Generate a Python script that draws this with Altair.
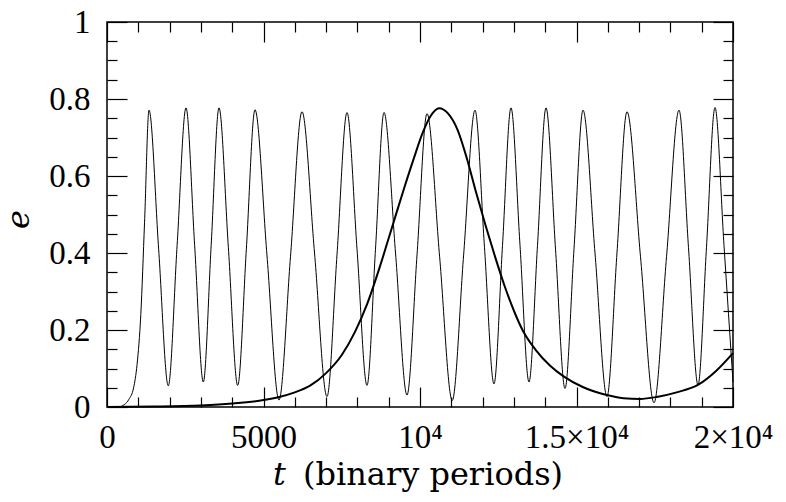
import altair as alt
import pandas as pd

# fast (inner binary) eccentricity oscillation
t_fast = [0, 350, 550, 700, 850, 960, 1080, 1200, 1342, 1650, 1958, 2240, 2524, 2800, 3077,
          3328, 3578, 3877, 4176, 4452, 4728, 5110, 5495, 5862, 6230, 6630, 7029, 7348, 7668,
          7988, 8307, 8578, 8850, 9218, 9585, 9905, 10224, 10627, 11030, 11394, 11757, 12060,
          12364, 12636, 12907, 13195, 13482, 13754, 14026, 14330, 14633, 14920, 15208, 15591,
          15974, 16293, 16613, 17045, 17476, 17876, 18275, 18578, 18882, 19153, 19425, 19712, 20000]
e_fast = [0, 0, 0.006, 0.02, 0.05, 0.11, 0.24, 0.48, 0.771, 0.41, 0.055, 0.42, 0.777, 0.42, 0.065,
          0.42, 0.777, 0.415, 0.056, 0.41, 0.772, 0.395, 0.018, 0.39, 0.767, 0.40, 0.027, 0.395, 0.765,
          0.41, 0.056, 0.41, 0.765, 0.40, 0.031, 0.395, 0.762, 0.39, 0.017, 0.395, 0.771, 0.415,
          0.06, 0.42, 0.777, 0.42, 0.065, 0.42, 0.777, 0.41, 0.048, 0.41, 0.771, 0.40,
          0.027, 0.40, 0.767, 0.39, 0.011, 0.39, 0.771, 0.414, 0.057, 0.415, 0.778, 0.42, 0.065]

# slow (long-period) oscillation
t_slow = [0, 1500, 3000, 4000, 5000, 5500, 6000, 6500, 7000, 7500, 7923, 8300, 8700, 9100,
          9500, 9800, 10100, 10350, 10607, 10900, 11200, 11500, 11800, 12100, 12400, 12700,
          13000, 13300, 13700, 14150, 14600, 15200, 15965, 16500, 17029, 17562, 18200, 18892,
          19450, 20000]
e_slow = [0, 0.001, 0.004, 0.009, 0.018, 0.026, 0.038, 0.056, 0.088, 0.135, 0.195, 0.265, 0.36,
          0.465, 0.57, 0.645, 0.715, 0.757, 0.776, 0.762, 0.72, 0.645, 0.555, 0.47, 0.39, 0.315,
          0.25, 0.196, 0.148, 0.108, 0.079, 0.052, 0.031, 0.023, 0.021, 0.026, 0.038, 0.058,
          0.093, 0.14]

x_tick_values = [0, 5000, 10000, 15000, 20000]
x_tick_labels = ["0", "5000", "10⁴", "1.5×10⁴", "2×10⁴"]
x_minor_ticks = [1000, 2000, 3000, 4000, 6000, 7000, 8000, 9000, 11000, 12000, 13000, 14000,
                 16000, 17000, 18000, 19000]
y_tick_values = [0, 0.2, 0.4, 0.6, 0.8, 1.0]
y_tick_labels = ["0", "0.2", "0.4", "0.6", "0.8", "1"]
y_minor_ticks = [0.05, 0.1, 0.15, 0.25, 0.3, 0.35, 0.45, 0.5, 0.55, 0.65, 0.7, 0.75, 0.85, 0.9, 0.95]

fast = pd.DataFrame({"t": t_fast, "e": e_fast})
slow = pd.DataFrame({"t": t_slow, "e": e_slow})


def label_expr(values, labels):
    parts = [f"abs(datum.value - {v}) < 1e-6 ? '{l}'" for v, l in zip(values, labels)]
    return " : ".join(parts) + " : ''"


XS = alt.Scale(domain=[0, 20000], nice=False, zero=False)
YS = alt.Scale(domain=[0, 1], nice=False, zero=False)
LABEL_FONT = "Liberation Serif"
TITLE_FONT = "DejaVu Serif"
MAJ, MIN = 20, 10
TITLE_BASE = 77


def tick_axis(orient, values, size, **kw):
    opts = dict(orient=orient, values=values, offset=-size, tickSize=size, tickWidth=1.2,
                tickColor="black", ticks=True, labels=False, domain=False, grid=False)
    opts.update(kw)
    if "title" not in opts:
        opts["title"] = None
    return alt.Axis(**opts)


x_main = alt.Axis(orient="bottom", values=x_tick_values,
                  labelExpr=label_expr(x_tick_values, x_tick_labels),
                  ticks=False, tickSize=0, domain=False, grid=False,
                  labelFont=LABEL_FONT, labelFontSize=33, labelColor="black",
                  labelPadding=40, labelBaseline="alphabetic", labelFlush=False, labelOverlap=False,
                  title="(binary periods)", titleFont=TITLE_FONT, titleFontSize=32,
                  titleFontWeight="normal", titleColor="black", titleX=325.5, titleY=TITLE_BASE,
                  titleAlign="center", titleBaseline="alphabetic")
y_main = alt.Axis(orient="left", values=y_tick_values,
                  labelExpr=label_expr(y_tick_values, y_tick_labels),
                  ticks=False, tickSize=0, domain=False, grid=False,
                  labelFont=LABEL_FONT, labelFontSize=33, labelColor="black",
                  labelPadding=17, labelBaseline="middle", labelFlush=False, labelOverlap=False,
                  title="e", titleFont=TITLE_FONT, titleFontSize=32, titleFontStyle="italic",
                  titleFontWeight="normal", titleColor="black", titleAngle=270,
                  titleX=-79, titleY=197, titleAlign="center", titleBaseline="alphabetic")

fast_layer = alt.Chart(fast).mark_line(color="black", strokeWidth=1.0, interpolate="monotone").encode(
    x=alt.X("t:Q", scale=XS, axis=x_main),
    y=alt.Y("e:Q", scale=YS, axis=y_main),
)

slow_layer = alt.Chart(slow).mark_line(color="black", strokeWidth=2.0, interpolate="monotone").encode(
    x=alt.X("t:Q", scale=XS, axis=tick_axis(
        "bottom", x_tick_values, MAJ, title="t", titleFont=TITLE_FONT, titleFontSize=32,
        titleFontStyle="italic", titleFontWeight="normal", titleColor="black",
        titleX=172, titleY=TITLE_BASE + MAJ, titleAlign="center", titleBaseline="alphabetic")),
    y=alt.Y("e:Q", scale=YS, axis=tick_axis("left", y_tick_values, MAJ)),
)


def ghost(xaxis, yaxis):
    return alt.Chart(slow).mark_line(opacity=0).encode(
        x=alt.X("t:Q", scale=XS, axis=xaxis),
        y=alt.Y("e:Q", scale=YS, axis=yaxis),
    )


g1 = ghost(tick_axis("bottom", x_minor_ticks, MIN), tick_axis("left", y_minor_ticks, MIN))
g2 = ghost(tick_axis("top", x_tick_values, MAJ), tick_axis("right", y_tick_values, MAJ))
g3 = ghost(tick_axis("top", x_minor_ticks, MIN), tick_axis("right", y_minor_ticks, MIN))

chart = alt.layer(fast_layer, slow_layer, g1, g2, g3).resolve_axis(
    x="independent", y="independent"
).properties(
    width=626, height=385,
    autosize=alt.AutoSizeParams(type="none"),
    padding={"left": 99, "top": 14, "right": 44, "bottom": 86},
    background="white",
).configure_view(stroke="black", strokeWidth=1.5)

chart.save("out.html", embed_options={"renderer": "svg", "actions": False})
